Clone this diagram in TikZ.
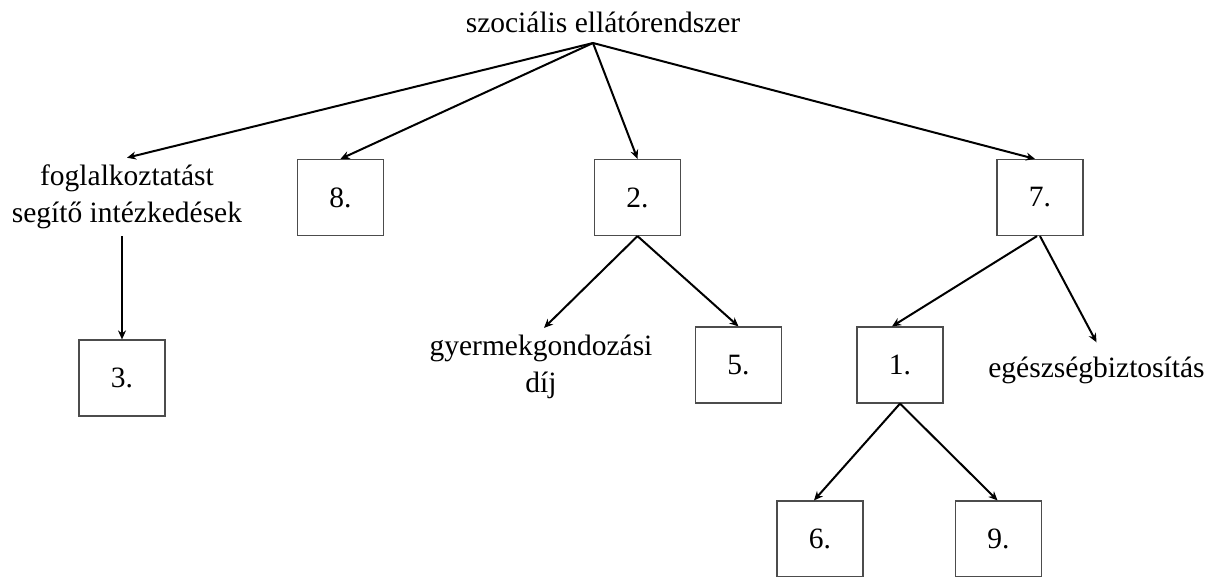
\documentclass[tikz,border=0pt]{standalone}
\usepackage{fontspec}
\setmainfont{Liberation Serif}
\usetikzlibrary{arrows.meta}
\begin{document}
\begin{tikzpicture}[x=1pt,y=-1pt,
  every node/.style={font=\fontsize{29.5}{37}\selectfont},
  numbox/.style={draw=black!70, line width=1.2pt, minimum width=86pt, minimum height=76pt, inner sep=0pt},
  lbl/.style={align=center, inner sep=7pt},
  conn/.style={line width=2pt, -{Stealth[length=9pt,width=8pt]}}]
\useasboundingbox (0,0) rectangle (1218,576);
\node[inner sep=0pt, anchor=base] (root) at (603,32) {szociális ellátórendszer};
\coordinate (rs) at (593,43);
\node[lbl] (fog) at (127,197) {foglalkoztatást\\segítő intézkedések};
\node[numbox] (n8) at (340.5,197.5) {8.};
\node[numbox] (n2) at (637.5,197.5) {2.};
\node[numbox] (n7) at (1040,197.5) {7.};
\node[numbox] (n3) at (122,378) {3.};
\node[lbl] (gy) at (541,367) {gyermekgondozási\\díj};
\node[numbox] (n5) at (738.5,365) {5.};
\node[numbox] (n1) at (900,365) {1.};
\node[lbl, anchor=base] (eg) at (1096.5,377) {egészségbiztosítás};
\node[numbox] (n6) at (820,539) {6.};
\node[numbox] (n9) at (998.5,539) {9.};
\draw[conn] (rs) -- (fog.north);
\draw[conn] (rs) -- (n8.north);
\draw[conn] (rs) -- (n2.north);
\draw[conn] (rs) -- ([xshift=-5pt]n7.north);
\draw[conn] (fog.south -| n3.north) -- (n3.north);
\draw[conn] (n2.south) -- ([xshift=3pt]gy.north);
\draw[conn] (n2.south) -- (n5.north);
\draw[conn] ([xshift=-3pt]n7.south) -- ([xshift=-8pt]n1.north);
\draw[conn] (n7.south) -- ([yshift=7pt]eg.north);
\draw[conn] (n1.south) -- ([xshift=-6pt]n6.north);
\draw[conn] (n1.south) -- ([xshift=-1pt]n9.north);
\end{tikzpicture}
\end{document}
